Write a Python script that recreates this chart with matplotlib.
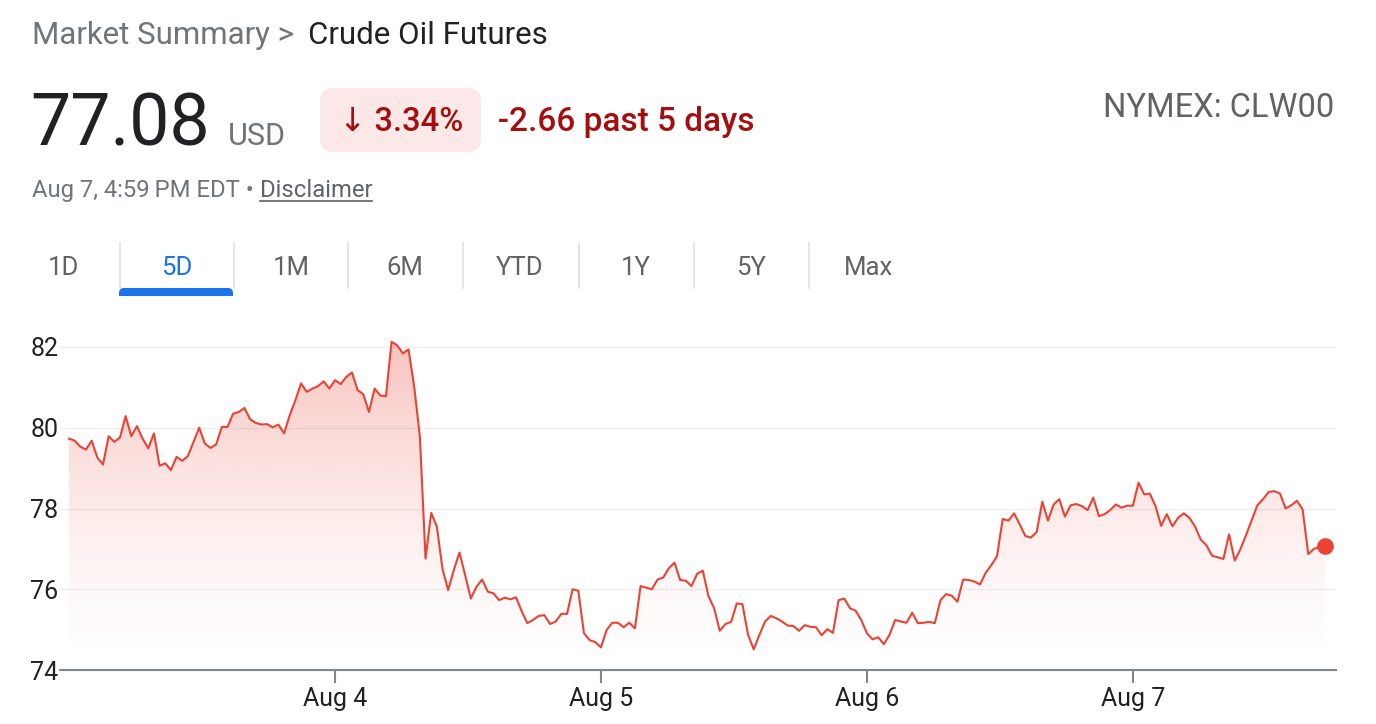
import matplotlib
matplotlib.use('Agg')
import matplotlib.pyplot as plt
import numpy as np
from matplotlib.patches import FancyBboxPatch, Rectangle
from matplotlib.lines import Line2D
from matplotlib.transforms import IdentityTransform
from matplotlib.colors import to_rgb

# ---------------- data ----------------
prices = [
    79.73, 79.68, 79.53, 79.46, 79.68, 79.26, 79.09, 79.79, 79.65, 79.76,
    80.29, 79.79, 80.04, 79.73, 79.49, 79.86, 79.06, 79.12, 78.95, 79.28,
    79.18, 79.30, 79.65, 80.00, 79.61, 79.50, 79.59, 80.02, 80.02, 80.35,
    80.39, 80.49, 80.21, 80.12, 80.08, 80.09, 80.01, 80.08, 79.86, 80.31,
    80.68, 81.10, 80.89, 80.97, 81.03, 81.15, 80.97, 81.18, 81.08, 81.26,
    81.37, 80.93, 80.83, 80.39, 80.97, 80.80, 80.78, 82.13, 82.04, 81.84,
    81.94, 81.01, 79.78, 76.76, 77.89, 77.55, 76.50, 75.98,
    76.48, 76.91, 76.35, 75.77, 76.06, 76.24, 75.94, 75.90, 75.73, 75.79,
    75.75, 75.80, 75.45, 75.16, 75.24, 75.34, 75.36, 75.14, 75.20, 75.39,
    75.39, 76.00, 75.96, 74.91, 74.74, 74.69, 74.56, 74.99, 75.17, 75.17,
    75.06, 75.17, 75.03, 76.08, 76.04, 76.00, 76.24, 76.29, 76.52, 76.66,
    76.23, 76.21, 76.08, 76.38, 76.46, 75.83, 75.53, 74.97, 75.14, 75.19,
    75.65, 75.63, 74.87, 74.51, 74.87, 75.20, 75.34, 75.28, 75.20, 75.10,
    75.09, 74.97, 75.11, 75.07, 75.06, 74.86, 75.01, 74.92, 75.73, 75.77,
    75.53, 75.47, 75.24, 74.91, 74.76, 74.81, 74.64, 74.87, 75.24, 75.20,
    75.17, 75.42, 75.16, 75.17, 75.19, 75.16, 75.73, 75.88, 75.84, 75.69,
    76.24, 76.23, 76.19, 76.12, 76.41, 76.60, 76.82, 77.74, 77.70, 77.88,
    77.61, 77.32, 77.28, 77.42, 78.17, 77.70, 78.10, 78.23, 77.80, 78.08,
    78.11, 78.06, 77.96, 78.27, 77.81, 77.86, 77.96, 78.10, 78.02, 78.07,
    78.07, 78.64, 78.35, 78.37, 78.06, 77.57, 77.86, 77.56, 77.77, 77.88,
    77.77, 77.55, 77.23, 77.09, 76.83, 76.79, 76.75, 77.36, 76.71, 76.99,
    77.34, 77.71, 78.08, 78.23, 78.41, 78.43, 78.37, 78.00, 78.08, 78.19,
    77.98, 76.87, 77.00, 77.05, 77.08,
]
date_tick_index = [47, 94, 141, 188]
date_tick_labels = ['Aug 4', 'Aug 5', 'Aug 6', 'Aug 7']
y_ticks = [74, 76, 78, 80, 82]
tabs = ['1D', '5D', '1M', '6M', 'YTD', '1Y', '5Y', 'Max']
active_tab = '5D'
last_price = '77.08'
currency = 'USD'
pct_change = '\u2193 3.34%'
abs_change = '-2.66 past 5 days'
breadcrumb_a = 'Market Summary > '
breadcrumb_b = 'Crude Oil Futures'
ticker = 'NYMEX: CLW00'
timestamp = 'Aug 7, 4:59\u2009PM EDT \u2022 '
disclaimer = 'Disclaimer'

# ---------------- figure ----------------
W, H = 1376, 724
plt.rcParams['font.family'] = ['Roboto', 'DejaVu Sans']
fig = plt.figure(figsize=(W / 100, H / 100), dpi=100)
fig.patch.set_facecolor('white')
I = IdentityTransform()

RED = '#ea4335'
DARKRED = '#a50e0e'
GRAY = '#70757a'
DGRAY = '#5f6368'
TXT = '#202124'

# header
fig.text(32, H - 44, breadcrumb_a, transform=I, fontsize=22.5, color=GRAY, va='baseline')
fig.text(308, H - 44, breadcrumb_b, transform=I, fontsize=22.5, color=TXT, va='baseline')
fig.text(30, H - 145, last_price, transform=I, fontsize=51.5, color=TXT, va='baseline')
fig.text(228, H - 145, currency, transform=I, fontsize=22, color=GRAY, va='baseline')
fig.patches.append(FancyBboxPatch((320, H - 152), 161, 64,
                                  boxstyle='round,pad=0,rounding_size=13',
                                  fc='#fce8e6', ec='none', transform=I, figure=fig))
fig.text(401, H - 131, pct_change, transform=I, fontsize=23.5, color=DARKRED,
         va='baseline', ha='center', fontweight='medium')
fig.text(498, H - 131, abs_change, transform=I, fontsize=24, color=DARKRED,
         va='baseline', fontweight='medium')
fig.text(1334, H - 117, ticker, transform=I, fontsize=23.5, color=DGRAY,
         va='baseline', ha='right')
t_ts = fig.text(32, H - 197, timestamp, transform=I, fontsize=17.2, color=GRAY, va='baseline')

# tabs
tab_centers = [63, 177, 291, 405, 520, 636, 751, 868]
for lab, cx in zip(tabs, tab_centers):
    col = '#1a73e8' if lab == active_tab else DGRAY
    fig.text(cx, H - 275, lab, transform=I, fontsize=18.5, color=col,
             va='baseline', ha='center')
for sx in [120, 234, 348, 463, 579, 694, 809]:
    fig.lines.append(Line2D([sx, sx], [H - 243, H - 288], color='#dadce0',
                            lw=1.1, transform=I, figure=fig))
fig.patches.append(FancyBboxPatch((119, H - 300), 114, 12,
                                  boxstyle='round,pad=0,rounding_size=5',
                                  fc='#1a73e8', ec='none', transform=I, figure=fig))
fig.patches.append(Rectangle((110, H - 305), 130, 9, fc='white', ec='none',
                             transform=I, figure=fig))

# ---------------- chart ----------------
ax_l, ax_r, ax_b = 60, 1336, 670
ytop = 82.5
px_per_unit = 40.375
ax_t = ax_b - (ytop - 74) * px_per_unit
ax = fig.add_axes([ax_l / W, (H - ax_b) / H, (ax_r - ax_l) / W, (ax_b - ax_t) / H])
x = np.arange(len(prices))
ax.set_xlim(-1.6, 223.9)
ax.set_ylim(74, ytop)

for v in y_ticks[1:]:
    ax.axhline(v, color='#eeeeee', lw=1.0, zorder=0)

# gradient fill under the line
ymax_data = max(prices)
n = 300
yy = np.linspace(74, ymax_data, n)
frac = (yy - 74) / (ymax_data - 74)
rgba = np.zeros((n, 1, 4))
rgba[..., :3] = to_rgb(RED)
rgba[:, 0, 3] = 0.32 * frac ** 1.5
im = ax.imshow(rgba, extent=[x[0], x[-1], 74, ymax_data], origin='lower',
               aspect='auto', zorder=1, interpolation='bilinear')
poly = ax.fill_between(x, prices, 74, facecolor='none', edgecolor='none')
im.set_clip_path(poly.get_paths()[0], transform=ax.transData)

ax.plot(x, prices, color=RED, lw=1.5, zorder=3, solid_joinstyle='round')
ax.plot([x[-1]], [prices[-1]], 'o', ms=11, color=RED, zorder=4)

for s in ['top', 'right', 'left']:
    ax.spines[s].set_visible(False)
ax.spines['bottom'].set_color('#80868b')
ax.spines['bottom'].set_linewidth(1.5)
ax.set_yticks(y_ticks)
ax.set_yticklabels([str(v) for v in y_ticks])
ax.tick_params(axis='y', length=0, pad=1, labelsize=18, labelcolor=TXT)
ax.set_xticks(date_tick_index)
ax.set_xticklabels(date_tick_labels)
ax.tick_params(axis='x', length=9, width=1.5, color='#80868b', pad=3.5,
               labelsize=18, labelcolor=TXT)

# underline disclaimer after measuring timestamp text
fig.canvas.draw()
r = fig.canvas.get_renderer()
bb = t_ts.get_window_extent(r)
t_d = fig.text(bb.x1, H - 197, disclaimer, transform=I, fontsize=17.2, color=DGRAY, va='baseline')
fig.canvas.draw()
bb2 = t_d.get_window_extent(r)
fig.lines.append(Line2D([bb2.x0, bb2.x1], [H - 201, H - 201], color=DGRAY, lw=1.2,
                        transform=I, figure=fig))

fig.savefig('out.png', dpi=100, facecolor='white')
